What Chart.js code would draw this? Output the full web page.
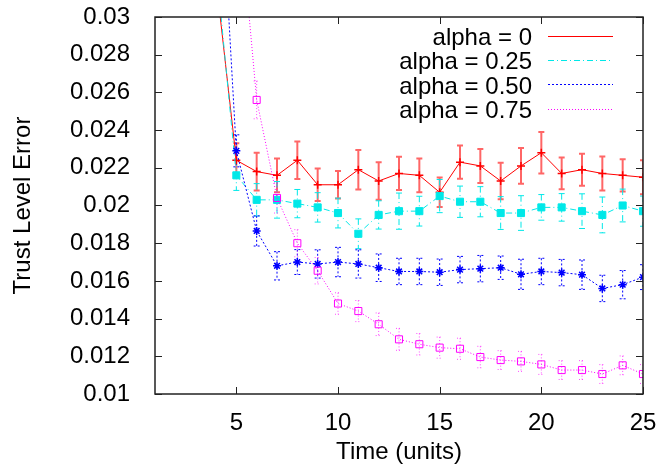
<!DOCTYPE html>
<html>
<head>
<meta charset="utf-8">
<script src="https://cdn.jsdelivr.net/npm/chart.js@4.4.1/dist/chart.umd.min.js"></script>
<style>
  html, body { margin: 0; padding: 0; background: #fff; }
  canvas { display: block; }
</style>
</head>
<body>
<canvas id="trustChart" width="661" height="472"></canvas>
<script>
// Dados (tempo 4..25)
const times = [4, 5, 6, 7, 8, 9, 10, 11, 12, 13, 14, 15, 16, 17, 18, 19, 20, 21, 22, 23, 24, 25];

const alpha0 = [0.032, 0.0224, 0.0218, 0.0216, 0.0224, 0.0211, 0.0211, 0.0219, 0.0213, 0.0217, 0.0216,
  0.0207, 0.0223, 0.0221, 0.0213, 0.0221, 0.0228, 0.0217, 0.0219, 0.0217, 0.0216, 0.0215];
const alpha0Err = [0, 0.0009, 0.001, 0.0009, 0.001, 0.00086, 0.00073, 0.00105, 0.001, 0.00088, 0.0009,
  0.00078, 0.00088, 0.0009, 0.00097, 0.00095, 0.0011, 0.00084, 0.00085, 0.0009, 0.00086, 0.0009];

const alpha025 = [0.0328, 0.0216, 0.0203, 0.0203, 0.0201, 0.0199, 0.0196, 0.0185, 0.0195, 0.0197, 0.0197,
  0.0205, 0.0202, 0.0202, 0.0196, 0.0196, 0.0199, 0.0199, 0.0197, 0.0195, 0.02, 0.0197];
const alpha025Err = [0, 0.0008, 0.00086, 0.00097, 0.00075, 0.00078, 0.00079, 0.00079, 0.00075, 0.00096, 0.00079,
  0.00088, 0.00083, 0.0008, 0.00087, 0.00092, 0.00068, 0.00073, 0.00092, 0.00095, 0.00087, 0.0008];

const alpha050 = [0.042, 0.0229, 0.01865, 0.0168, 0.017, 0.0169, 0.017, 0.0169, 0.0167, 0.0165, 0.0165,
  0.01646, 0.0166, 0.01665, 0.0167, 0.01635, 0.0165, 0.01644, 0.01633, 0.0156, 0.0158, 0.0162];
const alpha050Err = [0, 0.00085, 0.0008, 0.00075, 0.00066, 0.00075, 0.00078, 0.00075, 0.00073, 0.0007, 0.0007,
  0.0007, 0.0007, 0.0007, 0.00062, 0.0008, 0.0007, 0.0007, 0.00078, 0.0007, 0.00075, 0.00066];

const alpha075 = [null, 0.0376, 0.0256, 0.0204, 0.018, 0.01654, 0.0148, 0.0144, 0.0137, 0.0129, 0.01264,
  0.01246, 0.0124, 0.01196, 0.0118, 0.01173, 0.01157, 0.01127, 0.01127, 0.01106, 0.01152, 0.01106];
const alpha075Err = [0, 0.0009, 0.001, 0.0008, 0.00072, 0.0007, 0.00057, 0.00056, 0.0006, 0.00058, 0.00057,
  0.00056, 0.00056, 0.00057, 0.0005, 0.00053, 0.00053, 0.0005, 0.0005, 0.0005, 0.0005, 0.0005];

const xTicks = [5, 10, 15, 20, 25];
const yTicks = [0.01, 0.012, 0.014, 0.016, 0.018, 0.02, 0.022, 0.024, 0.026, 0.028, 0.03];

const FONT = "'Liberation Sans', Arial, sans-serif";
const toPoints = (values) => values.map((v, i) => ({ x: times[i], y: v }));

// Zera o padding extra que o Chart.js reserva para os rótulos das pontas
const noEdgePadding = (axis) => {
  axis.paddingTop = 0; axis.paddingBottom = 0;
  axis.paddingLeft = 0; axis.paddingRight = 0;
};

// Barras de erro desenhadas pelas escalas do próprio Chart.js
const errorBarsPlugin = {
  id: 'errorBars',
  beforeDatasetsDraw(chart) {
    const { ctx, chartArea, scales: { x, y } } = chart;
    ctx.save();
    ctx.beginPath();
    ctx.rect(chartArea.left, chartArea.top, chartArea.right - chartArea.left, chartArea.bottom - chartArea.top);
    ctx.clip();
    chart.data.datasets.forEach(ds => {
      ctx.strokeStyle = ds.errorColor;
      ctx.lineWidth = ds.errorWidth;
      ctx.setLineDash(ds.borderDash || []);
      ds.data.forEach((p, i) => {
        const err = ds.errors[i];
        if (p.y == null || !err) return;
        const px = x.getPixelForValue(p.x);
        const top = y.getPixelForValue(p.y + err);
        const bot = y.getPixelForValue(p.y - err);
        ctx.beginPath();
        ctx.moveTo(px, top); ctx.lineTo(px, bot);
        ctx.moveTo(px - 3, top); ctx.lineTo(px + 3, top);
        ctx.moveTo(px - 3, bot); ctx.lineTo(px + 3, bot);
        ctx.stroke();
      });
    });
    ctx.restore();
  }
};

// Moldura com marcas internas nos quatro lados
const framePlugin = {
  id: 'frame',
  afterDraw(chart) {
    const { ctx, chartArea: a, scales: { x, y } } = chart;
    ctx.save();
    ctx.strokeStyle = '#222';
    ctx.lineWidth = 1.5;
    ctx.setLineDash([]);
    ctx.strokeRect(a.left, a.top, a.right - a.left, a.bottom - a.top);
    ctx.lineWidth = 1;
    ctx.beginPath();
    xTicks.forEach(t => {
      const px = Math.round(x.getPixelForValue(t)) + 0.5;
      ctx.moveTo(px, a.bottom); ctx.lineTo(px, a.bottom - 7);
      ctx.moveTo(px, a.top); ctx.lineTo(px, a.top + 7);
    });
    yTicks.forEach(t => {
      const py = Math.round(y.getPixelForValue(t)) + 0.5;
      ctx.moveTo(a.left, py); ctx.lineTo(a.left + 7, py);
      ctx.moveTo(a.right, py); ctx.lineTo(a.right - 7, py);
    });
    ctx.stroke();
    ctx.restore();
  }
};

// Legenda no estilo gnuplot: texto à direita, amostra de linha depois
const keyPlugin = {
  id: 'gnuplotKey',
  afterDraw(chart) {
    const { ctx } = chart;
    ctx.save();
    ctx.font = `24px ${FONT}`;
    ctx.fillStyle = '#000';
    ctx.textAlign = 'right';
    ctx.textBaseline = 'alphabetic';
    chart.data.datasets.forEach((ds, i) => {
      const base = 45 + i * 24.4;
      ctx.fillText(ds.label, 532, base);
      ctx.strokeStyle = ds.borderColor;
      ctx.lineWidth = 1;
      ctx.setLineDash(ds.borderDash || []);
      ctx.beginPath();
      ctx.moveTo(548, Math.round(base - 9.5) + 0.5);
      ctx.lineTo(613, Math.round(base - 9.5) + 0.5);
      ctx.stroke();
    });
    ctx.restore();
  }
};

new Chart(document.getElementById('trustChart'), {
  type: 'line',
  data: {
    datasets: [
      {
        label: 'alpha = 0', data: toPoints(alpha0), errors: alpha0Err, order: 3,
        borderColor: '#ff0000', borderWidth: 1, errorColor: 'rgba(255,0,0,0.6)', errorWidth: 2,
        pointStyle: 'cross', pointRadius: 4, pointBorderWidth: 1.5, pointBorderColor: '#ff0000'
      },
      {
        label: 'alpha = 0.25', data: toPoints(alpha025), errors: alpha025Err, order: 2,
        borderColor: '#00e8e8', borderWidth: 1, borderDash: [6, 3, 1, 3], errorColor: '#00e8e8', errorWidth: 1,
        pointStyle: 'rect', pointRadius: 5, pointBackgroundColor: '#00e8e8', pointBorderColor: '#00e8e8', pointBorderWidth: 1
      },
      {
        label: 'alpha = 0.50', data: toPoints(alpha050), errors: alpha050Err, order: 1,
        borderColor: '#0000ff', borderWidth: 1, borderDash: [2, 2], errorColor: '#0000ff', errorWidth: 1,
        pointStyle: 'star', pointRadius: 4, pointBorderColor: '#0000ff', pointBorderWidth: 1.5
      },
      {
        label: 'alpha = 0.75', data: toPoints(alpha075), errors: alpha075Err, order: 0,
        borderColor: '#ff00ff', borderWidth: 1, borderDash: [1, 2], errorColor: 'rgba(255,0,255,0.7)', errorWidth: 1,
        pointStyle: 'rect', pointRadius: 5, pointBackgroundColor: 'rgba(0,0,0,0)', pointBorderColor: '#ff00ff', pointBorderWidth: 1
      }
    ]
  },
  options: {
    responsive: false,
    animation: false,
    events: [],
    layout: { padding: { top: 17, right: 18, left: 0, bottom: 0 } },
    elements: { line: { tension: 0, fill: false } },
    plugins: { legend: { display: false }, tooltip: { enabled: false } },
    scales: {
      x: {
        type: 'linear', min: 1, max: 25,
        afterBuildTicks: (axis) => { axis.ticks = xTicks.map(v => ({ value: v })); },
        afterFit: (axis) => { axis.height = 78; noEdgePadding(axis); },
        grid: { display: false }, border: { display: false },
        ticks: { font: { family: FONT, size: 24 }, color: '#000', padding: 7, maxRotation: 0, autoSkip: false },
        title: { display: true, text: 'Time (units)', font: { family: FONT, size: 24 }, color: '#000', padding: { top: 0, bottom: 5 } }
      },
      y: {
        min: 0.01, max: 0.03,
        afterBuildTicks: (axis) => { axis.ticks = yTicks.map(v => ({ value: v })); },
        afterFit: (axis) => { axis.width = 155; noEdgePadding(axis); },
        grid: { display: false }, border: { display: false },
        ticks: {
          font: { family: FONT, size: 24 }, color: '#000', padding: 17, autoSkip: false,
          callback: (v) => String(Number(v.toFixed(3)))
        },
        title: { display: true, text: 'Trust Level Error', font: { family: FONT, size: 24 }, color: '#000', padding: { top: 9, bottom: 0 } }
      }
    }
  },
  plugins: [errorBarsPlugin, framePlugin, keyPlugin]
});
</script>
</body>
</html>
